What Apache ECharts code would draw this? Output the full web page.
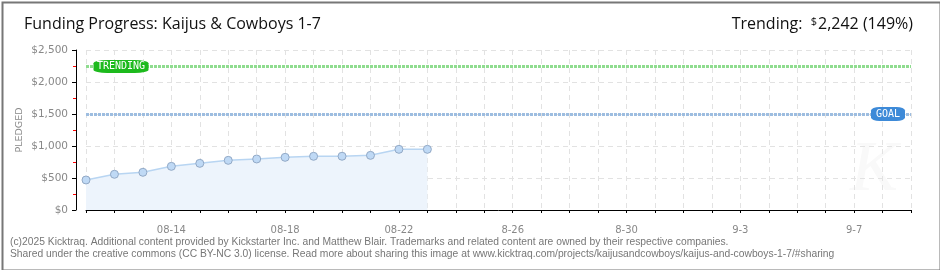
<!DOCTYPE html>
<html>
<head>
<meta charset="utf-8">
<script src="https://cdn.jsdelivr.net/npm/echarts@6/dist/echarts.min.js"></script>
<style>
  html, body { margin: 0; padding: 0; background: #fff; }
  #chart { width: 940px; height: 270px; }
</style>
</head>
<body>
<div id="chart"></div>
<script>
// days shown on the x axis (funded days use the 08- prefix, projected days don't)
var days = ['08-11','08-12','08-13','08-14','08-15','08-16','08-17','08-18','08-19','08-20','08-21','08-22','08-23',
            '8-24','8-25','8-26','8-27','8-28','8-29','8-30','8-31',
            '9-1','9-2','9-3','9-4','9-5','9-6','9-7','9-8','9-9'];
// pledged total per day
var pledged = [469, 558, 589, 682, 729, 776, 797, 823, 839, 840, 854, 948, 948];
var goal = 1500;
var trending = 2242;
var trendingPct = '149%';

var chart = echarts.init(document.getElementById('chart'));

var option = {
  animation: false,
  backgroundColor: '#fff',
  title: [{
    text: 'Funding Progress: Kaijus & Cowboys 1-7',
    left: 19, top: 11,
    textStyle: { fontFamily: 'Open Sans', fontWeight: 'normal', fontSize: 16, color: '#111' }
  }, {
    text: '{t|Trending:  }{d|$}{v|' + trending.toLocaleString('en-US') + ' (' + trendingPct + ')}',
    right: 22, top: 11,
    textStyle: {
      fontWeight: 'normal',
      rich: {
        t: { fontFamily: 'Open Sans', fontWeight: 'normal', fontSize: 16, color: '#111' },
        d: { fontFamily: 'Open Sans', fontWeight: 'normal', fontSize: 11, color: '#111', verticalAlign: 'top', padding: [0, 1, 6, 0] },
        v: { fontFamily: 'Open Sans', fontWeight: 'normal', fontSize: 16, color: '#111' }
      }
    }
  }],
  grid: { left: 86, right: 29, top: 50, bottom: 60 },
  xAxis: {
    type: 'category',
    data: days,
    boundaryGap: false,
    offset: 10,
    axisLine: { lineStyle: { color: '#000', width: 1 } },
    axisTick: { interval: 0, length: 3, lineStyle: { color: '#000' } },
    axisLabel: {
      interval: function (i) { return i % 4 === 3; },
      margin: 5,
      color: '#888', fontFamily: 'DejaVu Sans', fontSize: 10
    },
    splitLine: { show: true, interval: 0, lineStyle: { color: '#e2e2e2', type: [5, 4] } }
  },
  yAxis: {
    type: 'value',
    min: 0, max: 2500, interval: 500,
    offset: 10,
    axisLine: { show: true, lineStyle: { color: '#000', width: 1 } },
    axisTick: { show: true, length: 4, lineStyle: { color: '#000' } },
    minorTick: { show: true, splitNumber: 2, length: 3, lineStyle: { color: '#f00' } },
    axisLabel: {
      margin: 8, color: '#888', fontFamily: 'DejaVu Sans', fontSize: 10.5,
      formatter: function (v) { return '$' + v.toLocaleString('en-US'); }
    },
    splitLine: { show: true, lineStyle: { color: '#e2e2e2', type: [5, 4] } }
  },
  series: [{
    type: 'line',
    data: pledged,
    symbol: 'circle',
    symbolSize: 8,
    lineStyle: { color: '#b8d5f2', width: 1.5 },
    itemStyle: { color: '#bfd9f5', borderColor: '#92a9c6', borderWidth: 1 },
    areaStyle: { color: '#edf4fc', opacity: 1 },
    markLine: {
      silent: true,
      symbol: 'none',
      label: { show: false },
      data: [
        { yAxis: trending, lineStyle: { color: '#8fdc8f', width: 3, type: [3, 1] } },
        { yAxis: goal, lineStyle: { color: '#9dbde0', width: 3, type: [3, 1] } }
      ]
    },
    markPoint: {
      silent: true,
      data: [{
        coord: [days[0], trending],
        symbol: 'roundRect', symbolSize: [55, 13], symbolOffset: [35, 0],
        itemStyle: { color: '#1dba1d' },
        label: { show: true, formatter: 'TRENDING', color: '#fff', fontFamily: 'DejaVu Sans Mono', fontSize: 10 }
      }, {
        coord: [days[days.length - 1], goal],
        symbol: 'roundRect', symbolSize: [34, 14], symbolOffset: [-23, 0],
        itemStyle: { color: '#3d8ad8' },
        label: { show: true, formatter: 'GOAL', color: '#fff', fontFamily: 'DejaVu Sans Mono', fontSize: 10 }
      }]
    }
  }],
  graphic: [{
    type: 'rect', left: 0, top: 0, silent: true, z: -1,
    shape: { width: 938, height: 268 },
    style: { fill: 'none', stroke: '#777', lineWidth: 2 }
  }, {
    type: 'text', right: 42, top: 135, silent: true, z: -1,
    style: { text: 'K', font: 'italic 72px serif', fill: '#f9f9f9' }
  }, {
    // y axis title
    type: 'text', x: 20, y: 130, rotation: Math.PI / 2,
    style: { text: 'PLEDGED', font: '9.5px "DejaVu Sans"', fill: '#888', align: 'center', verticalAlign: 'middle' }
  }, {
    type: 'text', left: 10, top: 236,
    style: {
      text: '(c)2025 Kicktraq. Additional content provided by Kickstarter Inc. and Matthew Blair. Trademarks and related content are owned by their respective companies.\nShared under the creative commons (CC BY-NC 3.0) license. Read more about sharing this image at www.kicktraq.com/projects/kaijusandcowboys/kaijus-and-cowboys-1-7/#sharing',
      font: '10.3px "Liberation Sans"', fill: '#777', lineHeight: 12
    }
  }]
};

chart.setOption(option);
</script>
</body>
</html>
